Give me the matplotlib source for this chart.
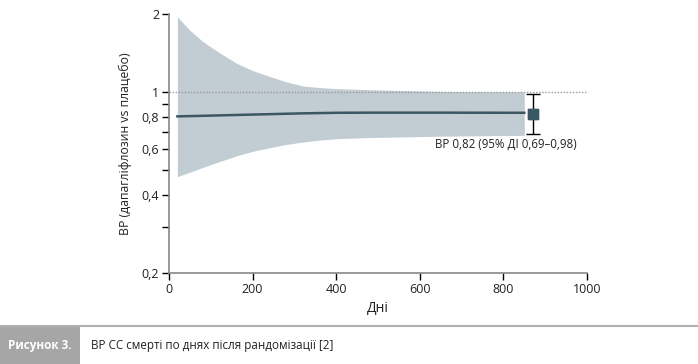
import matplotlib
matplotlib.use("Agg")
import matplotlib.pyplot as plt
from matplotlib.patches import Rectangle
from matplotlib.lines import Line2D
from matplotlib.ticker import FixedLocator, NullFormatter

plt.rcParams['font.family'] = ['Open Sans', 'DejaVu Sans']

days = [20, 50, 82, 120, 162, 200, 242, 280, 321, 360, 401, 481, 650, 850]
upper = [1.95, 1.73, 1.56, 1.42, 1.29, 1.21, 1.146, 1.095, 1.054, 1.04, 1.03, 1.02, 1.005, 1.0]
lower = [0.471, 0.49, 0.512, 0.538, 0.567, 0.59, 0.61, 0.627, 0.641, 0.652, 0.66, 0.667, 0.675, 0.68]
hr = [0.805, 0.807, 0.809, 0.812, 0.815, 0.818, 0.821, 0.824, 0.827, 0.829, 0.831, 0.832, 0.832, 0.831]

point_day = 870
point_hr = 0.82
point_lo = 0.69
point_hi = 0.98
label_txt = "ВР 0,82 (95% ДІ 0,69–0,98)"

yticks_major = [0.2, 0.4, 0.6, 0.8, 1, 2]
ytick_labels = ["0,2", "0,4", "0,6", "0,8", "1", "2"]
yticks_minor = [0.3, 0.5, 0.7, 0.9]
xticks = [0, 200, 400, 600, 800, 1000]

band_col = "#c2ccd3"
line_col = "#3b5761"

fig = plt.figure(figsize=(6.98, 3.64), dpi=100)
ax = fig.add_axes([169/698, 1-273/364, 418/698, 259/364])
ax.set_yscale('log')
ax.set_xlim(0, 1000)
ax.set_ylim(0.2, 2)

ax.fill_between(days, lower, upper, color=band_col, lw=0, zorder=1)
ax.plot(days, hr, color=line_col, lw=1.8, zorder=3)
ax.axhline(1, color="#999999", lw=1, ls=(0, (1, 1.2)), zorder=2)

ax.errorbar([point_day], [point_hr],
            yerr=[[point_hr - point_lo], [point_hi - point_hr]],
            fmt='s', color=line_col, ms=7, ecolor='black', elinewidth=1, capsize=5, capthick=1, zorder=4)
ax.errorbar([point_day], [point_hr], yerr=None, fmt='s', color=line_col, ms=7, zorder=5)
ax.text(806, 0.665, label_txt, ha='center', va='top', fontsize=8.3, color='#222222')

ax.yaxis.set_major_locator(FixedLocator(yticks_major))
ax.set_yticklabels(ytick_labels)
ax.yaxis.set_minor_locator(FixedLocator(yticks_minor))
ax.yaxis.set_minor_formatter(NullFormatter())
ax.set_xticks(xticks)
ax.set_xticklabels([str(x) for x in xticks])

for s in ['top', 'right']:
    ax.spines[s].set_visible(False)
for s in ['left', 'bottom']:
    ax.spines[s].set_color('#888888')
    ax.spines[s].set_linewidth(1.2)

ax.tick_params(axis='both', which='major', direction='out', length=5, width=1, color='black', labelsize=9, labelcolor='#222222', pad=2)
ax.tick_params(axis='y', which='minor', direction='out', length=5, width=1, color='black')

ax.set_xlabel("Дні", fontsize=10, color='#222222', labelpad=4)
ax.set_ylabel("ВР (дапагліфлозин vs плацебо)", fontsize=8.8, color='#222222', labelpad=7)

# caption
fig.add_artist(Line2D([0, 1], [1-325.5/364, 1-325.5/364], color='#b0b0b0', lw=1.5, transform=fig.transFigure))
fig.add_artist(Rectangle((0, 0), 80/698, 1-327/364, color='#a6a6a6', transform=fig.transFigure, lw=0))
fig.text(40/698, 1-345/364, "Рисунок 3.", color='white', fontsize=8.5, fontweight='bold', ha='center', va='center')
fig.text(91/698, 1-345/364, "ВР СС смерті по днях після рандомізації [2]", color='#222222', fontsize=8.4, ha='left', va='center')

fig.savefig("out.png", dpi=100)
